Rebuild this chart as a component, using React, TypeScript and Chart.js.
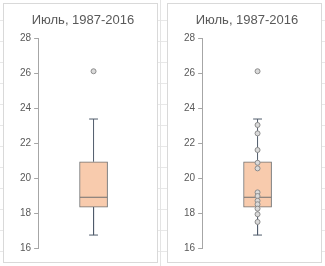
import React, { useEffect, useRef } from "react";
import { Chart, registerables } from "chart.js";

Chart.register(...registerables);

// ---- data ----
const chartTitle = "Июль, 1987-2016";
const yTickMin = 16;
const yTickMax = 28;
const yTickStep = 2;
const boxCenter = [1];
const boxQuartiles = [18.33, 20.93]; // Q1, Q3
const boxMedian = [18.9];
const whiskerLow = [16.74];
const whiskerHigh = [23.37];
const outlierValues = [26.1];
const innerPointValues = [23.03, 22.55, 21.6, 20.87, 20.55, 19.18, 18.97, 18.7, 18.5, 18.25, 17.93, 17.49];

// ---- style ----
const BOX_HALF = 0.2456; // x-units (scale 0..2)
const CAP_HALF = 0.08;
const TEXT = "#595959";
const AXIS = "#a6a6a6";
const WHISKER = "#4f5b6b";
const BOX_BORDER = "#707070";
const BOX_FILL = "#F8CBAD";
const FONT = "'Liberation Sans', Arial, sans-serif";

function BoxPanel({ showInner, left }: { showInner: boolean; left: number }) {
  const ref = useRef<HTMLCanvasElement | null>(null);
  useEffect(() => {
    if (!ref.current) return;
    const cx = boxCenter[0];
    const q1 = boxQuartiles[0];
    const q3 = boxQuartiles[1];
    const med = boxMedian[0];
    const lo = whiskerLow[0];
    const hi = whiskerHigh[0];
    const seg = (pts: { x: number; y: number }[], color: string, order: number) => ({
      type: "scatter" as const,
      data: pts,
      showLine: true,
      borderColor: color,
      borderWidth: 1,
      pointRadius: 0,
      pointHoverRadius: 0,
      order,
    });
    const pointStyle = {
      type: "scatter" as const,
      pointRadius: 2.5,
      pointBorderWidth: 1,
      pointBorderColor: "#8c8c8c",
      pointBackgroundColor: "#dadada",
      borderColor: "#8c8c8c",
      backgroundColor: "#dadada",
      showLine: false,
      order: 0,
    };
    const datasets: any[] = [
      {
        type: "bar",
        data: [{ x: cx, y: [q1, q3] }],
        backgroundColor: BOX_FILL,
        borderColor: BOX_BORDER,
        borderWidth: 1,
        borderSkipped: false,
        barThickness: 28,
        order: 10,
      },
      seg([{ x: cx - BOX_HALF, y: med }, { x: cx + BOX_HALF, y: med }], BOX_BORDER, 5),
      seg([{ x: cx, y: q3 }, { x: cx, y: hi }], WHISKER, 6),
      seg([{ x: cx - CAP_HALF, y: hi }, { x: cx + CAP_HALF, y: hi }], WHISKER, 6),
      seg([{ x: cx, y: q1 }, { x: cx, y: lo }], WHISKER, 6),
      seg([{ x: cx - CAP_HALF, y: lo }, { x: cx + CAP_HALF, y: lo }], WHISKER, 6),
      { ...pointStyle, data: outlierValues.map((v) => ({ x: cx, y: v })) },
    ];
    if (showInner) {
      datasets.push({ ...pointStyle, data: innerPointValues.map((v) => ({ x: cx, y: v })) });
    }
    const chart = new Chart(ref.current, {
      type: "scatter",
      data: { datasets },
      options: {
        animation: false,
        responsive: false,
        events: [],
        layout: { padding: { left: 13, right: 8, top: 0, bottom: 14 } },
        plugins: {
          legend: { display: false },
          tooltip: { enabled: false },
          title: {
            display: true,
            text: chartTitle,
            color: TEXT,
            font: { family: FONT, size: 13, weight: "normal" },
            padding: { top: 8.2, bottom: 10.2 },
          },
        },
        scales: {
          x: { type: "linear", display: false, min: 0, max: 2, offset: false },
          y: {
            type: "linear",
            min: yTickMin,
            max: yTickMax,
            ticks: {
              stepSize: yTickStep,
              color: TEXT,
              font: { family: FONT, size: 10 },
              padding: 3,
            },
            grid: { drawOnChartArea: false, drawTicks: true, tickLength: 4, color: AXIS },
            border: { display: true, color: AXIS },
          },
        },
      } as any,
    });
    return () => chart.destroy();
  }, [showInner]);
  return (
    <div
      style={{
        position: "absolute",
        left,
        top: 3,
        width: 153,
        height: 258,
        border: "1px solid #d9d9d9",
        background: "#ffffff",
      }}
    >
      <canvas ref={ref} width={153} height={258} style={{ display: "block" }} />
    </div>
  );
}

export default function App() {
  return (
    <div
      style={{
        position: "fixed",
        left: 0,
        top: 0,
        width: 325,
        height: 266,
        overflow: "hidden",
        backgroundColor: "#ffffff",
        backgroundImage:
          "linear-gradient(to right, transparent 160px, #e4e4e4 160px, #e4e4e4 161px, transparent 161px), repeating-linear-gradient(to bottom, transparent 0px, transparent 20px, #e8e8e8 20px, #e8e8e8 21px)",
      }}
    >
      <BoxPanel showInner={false} left={3} />
      <BoxPanel showInner={true} left={167} />
    </div>
  );
}
